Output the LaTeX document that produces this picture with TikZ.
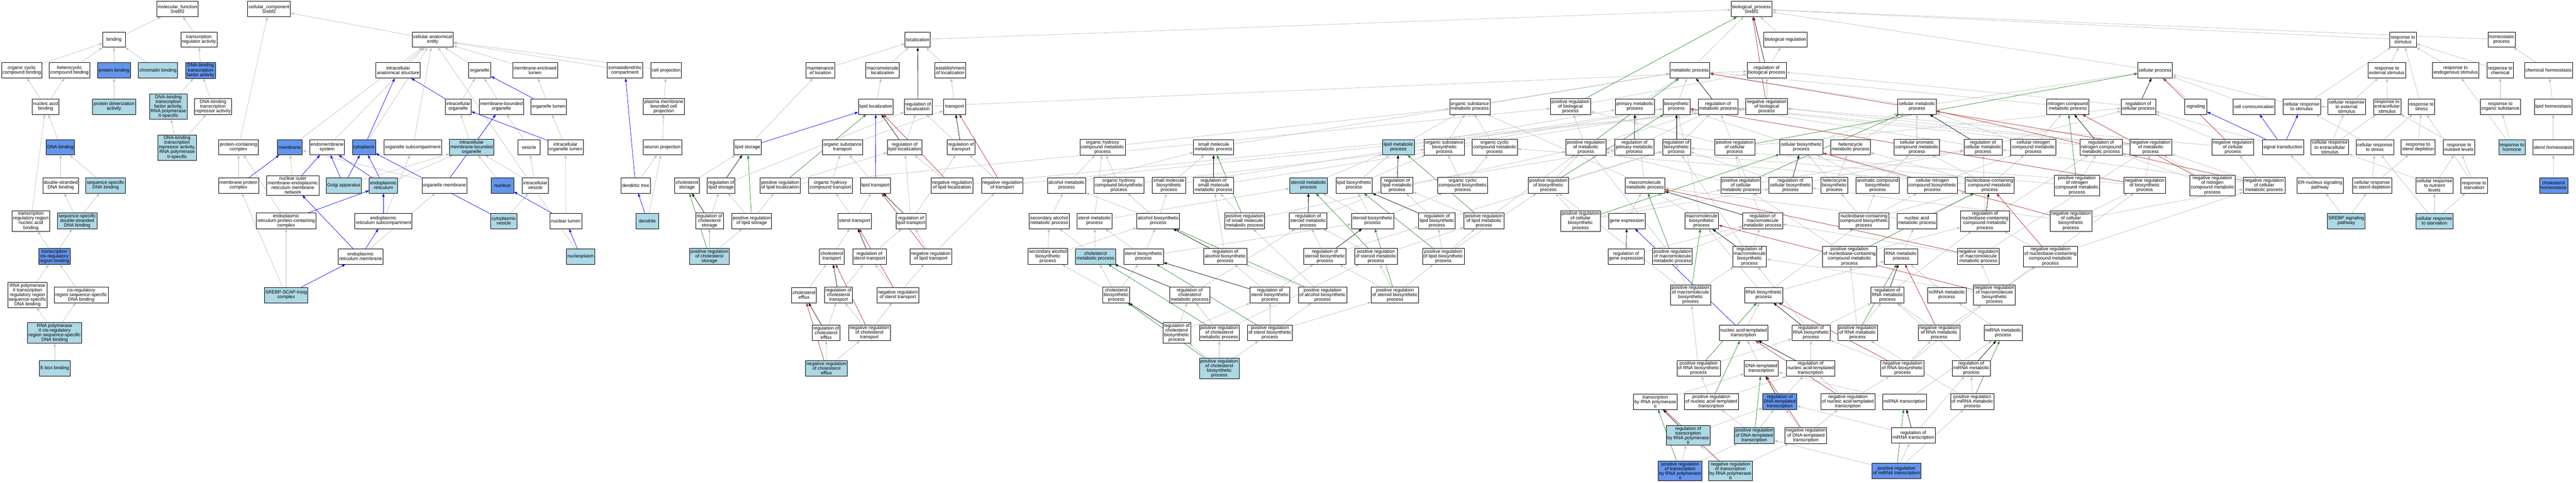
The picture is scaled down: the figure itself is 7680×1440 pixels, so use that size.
\documentclass[tikz,border=0pt]{standalone}
\usepackage{fontspec}
\setmainfont{Liberation Sans}
\usepackage{tikz}
\usetikzlibrary{arrows.meta,backgrounds}

\definecolor{hitdark}{RGB}{100,149,237}
\definecolor{hitlight}{RGB}{173,216,230}
\definecolor{edgegray}{RGB}{190,190,190}
\definecolor{negred}{RGB}{178,34,34}
\definecolor{posgreen}{RGB}{34,139,34}

\begin{document}
\begin{tikzpicture}[x=1pt,y=-1pt,
  go/.style={draw=black, line width=1pt, fill=white, align=center,
    font=\fontsize{14}{14}\selectfont, inner xsep=3pt, inner ysep=3pt,
    minimum width=67pt, minimum height=46pt},
  golight/.style={go, fill=hitlight},
  godark/.style={go, fill=hitdark},
  edge/.style={line width=1pt, -{Triangle[length=10pt,width=7pt]}},
  isa/.style={edge, draw=edgegray, fill=edgegray},
  partof/.style={edge, draw=blue, fill=blue},
  regs/.style={edge, draw=black, fill=black},
  posreg/.style={edge, draw=posgreen, fill=posgreen},
  negreg/.style={edge, draw=negred, fill=negred}]

\useasboundingbox (0,0) rectangle (7680,1440);

% molecular function
\node[go] (mf) at (529,27) {molecular\_function\\Srebf2};
\node[go] (bind) at (340,118) {binding};
\node[go] (trreg) at (593,118) {transcription\\regulator activity};
\node[go] (occb) at (65,210) {organic cyclic\\compound binding};
\node[go] (hcb) at (207,210) {heterocyclic\\compound binding};
\node[godark] (protb) at (340,210) {protein binding};
\node[golight] (chromb) at (471,210) {chromatin binding};
\node[godark] (dbtf) at (598,210) {DNA-binding\\transcription\\factor activity};
\node[go] (nab) at (136,318) {nucleic acid\\binding};
\node[golight] (pdim) at (340,318) {protein dimerization\\activity};
\node[golight] (dbtf2) at (502,318) {DNA-binding\\transcription\\factor activity,\\RNA polymerase\\II-specific};
\node[go] (dbtr) at (635,318) {DNA-binding\\transcription\\repressor activity};
\node[godark] (dnab) at (180,439) {DNA binding};
\node[golight] (dbtr2) at (528,440) {DNA-binding\\transcription\\repressor activity,\\RNA polymerase\\II-specific};
\node[go] (dsdna) at (181,553) {double-stranded\\DNA binding};
\node[golight] (ssdna) at (315,553) {sequence-specific\\DNA binding};
\node[go] (trrnab) at (92,659) {transcription\\regulatory region\\nucleic acid\\binding};
\node[golight] (ssdsdna) at (230,659) {sequence-specific\\double-stranded\\DNA binding};
\node[godark] (tcrb) at (162,765) {transcription\\cis-regulatory\\region binding};
\node[go] (rnap2trr) at (82,880) {RNA polymerase\\II transcription\\regulatory region\\sequence-specific\\DNA binding};
\node[go] (cisrr) at (242,880) {cis-regulatory\\region sequence-specific\\DNA binding};
\node[golight] (rnap2cis) at (163,993) {RNA polymerase\\II cis-regulatory\\region sequence-specific\\DNA binding};
\node[golight] (ebox) at (163,1099) {E-box binding};

% cellular component
\node[go] (cc) at (802,27) {cellular\_component\\Srebf2};
\node[go] (cae) at (1290,118) {cellular anatomical\\entity};
\node[go] (ias) at (1187,210) {intracellular\\anatomical structure};
\node[go] (organelle) at (1430,210) {organelle};
\node[go] (mel) at (1595,210) {membrane-enclosed\\lumen};
\node[go] (somato) at (1863,210) {somatodendritic\\compartment};
\node[go] (cellproj) at (1986,210) {cell projection};
\node[go] (intorg) at (1366,318) {intracellular\\organelle};
\node[go] (mbo) at (1495,318) {membrane-bounded\\organelle};
\node[go] (orglum) at (1636,318) {organelle lumen};
\node[go] (pmbcp) at (1979,318) {plasma membrane\\bounded cell\\projection};
\node[go] (pcc) at (711,439) {protein-containing\\complex};
\node[godark] (membrane) at (864,439) {membrane};
\node[go] (endomem) at (975,439) {endomembrane\\system};
\node[godark] (cytoplasm) at (1085,439) {cytoplasm};
\node[go] (orgsub) at (1231,439) {organelle subcompartment};
\node[golight] (imbo) at (1406,439) {intracellular\\membrane-bounded\\organelle};
\node[go] (vesicle) at (1577,439) {vesicle};
\node[go] (iol) at (1686,439) {intracellular\\organelle lumen};
\node[go] (neuproj) at (1975,439) {neuron projection};
\node[go] (mpc) at (711,553) {membrane protein\\complex};
\node[go] (nomer) at (873,553) {nuclear outer\\membrane-endoplasmic\\reticulum membrane\\network};
\node[golight] (golgi) at (1025,553) {Golgi apparatus};
\node[golight] (er) at (1143,553) {endoplasmic\\reticulum};
\node[go] (orgmem) at (1325,553) {organelle membrane};
\node[godark] (nucleus) at (1498,553) {nucleus};
\node[go] (intves) at (1596,553) {intracellular\\vesicle};
\node[go] (dentree) at (1895,553) {dendritic tree};
\node[go] (erpcc) at (853,659) {endoplasmic\\reticulum protein-containing\\complex};
\node[go] (ersub) at (1143,659) {endoplasmic\\reticulum subcompartment};
\node[golight] (cytves) at (1502,659) {cytoplasmic\\vesicle};
\node[go] (nuclum) at (1687,659) {nuclear lumen};
\node[golight] (dendrite) at (1930,659) {dendrite};
\node[go] (ermem) at (1075,765) {endoplasmic\\reticulum membrane};
\node[golight] (nucplasm) at (1731,765) {nucleoplasm};
\node[golight] (scap) at (853,880) {SREBP-SCAP-Insig\\complex};

% localization and transport
\node[go] (maintloc) at (2446,210) {maintenance\\of location};
\node[go] (loc) at (2736,118) {localization};
\node[go] (macroloc) at (2631,210) {macromolecule\\localization};
\node[go] (estloc) at (2833,210) {establishment\\of localization};
\node[go] (lipidloc) at (2611,318) {lipid localization};
\node[go] (regloc) at (2737,318) {regulation of\\localization};
\node[go] (transport) at (2846,318) {transport};
\node[go] (lipstor) at (2229,439) {lipid storage};
\node[go] (ostrans) at (2512,439) {organic substance\\transport};
\node[go] (reglipl) at (2697,439) {regulation of\\lipid localization};
\node[go] (regtrans) at (2865,439) {regulation of\\transport};
\node[go] (cholstor) at (2048,553) {cholesterol\\storage};
\node[go] (reglips) at (2150,553) {regulation of\\lipid storage};
\node[go] (posreglipl) at (2326,553) {positive regulation\\of lipid localization};
\node[go] (ohct) at (2476,553) {organic hydroxy\\compound transport};
\node[go] (liptrans) at (2610,553) {lipid transport};
\node[go] (neglipl) at (2838,553) {negative regulation\\of lipid localization};
\node[go] (negtrans) at (2988,553) {negative regulation\\of transport};
\node[go] (regcholstor) at (2115,659) {regulation of\\cholesterol\\storage};
\node[go] (poslips) at (2241,659) {positive regulation\\of lipid storage};
\node[go] (stertrans) at (2548,659) {sterol transport};
\node[go] (regliptrans) at (2716,659) {regulation of\\lipid transport};
\node[golight] (poscholstor) at (2115,765) {positive regulation\\of cholesterol\\storage};
\node[go] (choltrans) at (2480,765) {cholesterol\\transport};
\node[go] (regstertrans) at (2592,765) {regulation of\\sterol transport};
\node[go] (negliptrans) at (2775,765) {negative regulation\\of lipid transport};
\node[go] (cholefflux) at (2397,880) {cholesterol\\efflux};
\node[go] (regcholtrans) at (2500,880) {regulation of\\cholesterol\\transport};
\node[go] (negstertrans) at (2677,880) {negative regulation\\of sterol transport};
\node[go] (regcholeff) at (2463,993) {regulation of\\cholesterol\\efflux};
\node[go] (negcholtrans) at (2592,993) {negative regulation\\of cholesterol\\transport};
\node[golight] (negcholeff) at (2464,1099) {negative regulation\\of cholesterol\\efflux};

% small molecules, alcohols, sterols
\node[go] (ohcmp) at (3287,439) {organic hydroxy\\compound metabolic\\process};
\node[go] (smmp) at (3618,439) {small molecule\\metabolic process};
\node[go] (alcmp) at (3180,553) {alcohol metabolic\\process};
\node[go] (ohcbp) at (3336,553) {organic hydroxy\\compound biosynthetic\\process};
\node[go] (smbp) at (3485,553) {small molecule\\biosynthetic\\process};
\node[go] (regsmmp) at (3618,553) {regulation of\\small molecule\\metabolic process};
\node[go] (secalcmp) at (3128,659) {secondary alcohol\\metabolic process};
\node[go] (sterolmp) at (3263,659) {sterol metabolic\\process};
\node[go] (alcbp) at (3453,659) {alcohol biosynthetic\\process};
\node[go] (possmmp) at (3711,659) {positive regulation\\of small molecule\\metabolic process};
\node[go] (secalcbp) at (3124,765) {secondary alcohol\\biosynthetic\\process};
\node[golight] (cholmp) at (3266,765) {cholesterol\\metabolic process};
\node[go] (sterolbp) at (3409,765) {sterol biosynthetic\\process};
\node[go] (regalcbp) at (3653,765) {regulation of\\alcohol biosynthetic\\process};
\node[go] (cholbp) at (3328,880) {cholesterol\\biosynthetic\\process};
\node[go] (regcholmp) at (3547,880) {regulation of\\cholesterol\\metabolic process};
\node[go] (regsterolbp) at (3786,880) {regulation of\\sterol biosynthetic\\process};
\node[go] (regcholbp) at (3508,993) {regulation of\\cholesterol\\biosynthetic\\process};
\node[go] (poscholmp) at (3635,993) {positive regulation\\of cholesterol\\metabolic process};
\node[go] (possterolbp) at (3786,993) {positive regulation\\of sterol biosynthetic\\process};
\node[golight] (poscholbp) at (3635,1099) {positive regulation\\of cholesterol\\biosynthetic\\process};

% lipids and steroids
\node[golight] (lipmp) at (4169,439) {lipid metabolic\\process};
\node[go] (osbp) at (4306,439) {organic substance\\biosynthetic\\process};
\node[go] (occmp) at (4456,439) {organic cyclic\\compound metabolic\\process};
\node[golight] (stermp) at (3901,553) {steroid metabolic\\process};
\node[go] (lipbp) at (4037,553) {lipid biosynthetic\\process};
\node[go] (reglipmp) at (4165,553) {regulation of\\lipid metabolic\\process};
\node[go] (occbp) at (4361,553) {organic cyclic\\compound biosynthetic\\process};
\node[go] (regstermp) at (3900,659) {regulation of\\steroid metabolic\\process};
\node[go] (sterbp) at (4092,659) {steroid biosynthetic\\process};
\node[go] (reglipbp) at (4284,659) {regulation of\\lipid biosynthetic\\process};
\node[go] (poslipmp) at (4424,659) {positive regulation\\of lipid metabolic\\process};
\node[go] (regsterbp) at (3950,765) {regulation of\\steroid biosynthetic\\process};
\node[go] (posstermp) at (4102,765) {positive regulation\\of steroid metabolic\\process};
\node[go] (poslipbp) at (4303,765) {positive regulation\\of lipid biosynthetic\\process};
\node[go] (posalcbp) at (3943,880) {positive regulation\\of alcohol biosynthetic\\process};
\node[go] (possterbp) at (4159,880) {positive regulation\\of steroid biosynthetic\\process};

% metabolism core
\node[go] (metab) at (5038,210) {metabolic process};
\node[go] (osmp) at (4382,318) {organic substance\\metabolic process};
\node[go] (posbp) at (4682,318) {positive regulation\\of biological\\process};
\node[go] (primmp) at (4874,318) {primary metabolic\\process};
\node[go] (biosyn) at (4998,318) {biosynthetic\\process};
\node[go] (regmp) at (5122,318) {regulation of\\metabolic process};
\node[go] (posmp) at (4728,439) {positive regulation\\of metabolic\\process};
\node[go] (regpmp) at (4873,439) {regulation of\\primary metabolic\\process};
\node[go] (regbiosyn) at (4998,439) {regulation of\\biosynthetic\\process};
\node[go] (poscp) at (5172,439) {positive regulation\\of cellular\\process};
\node[go] (posbiosyn) at (4616,553) {positive regulation\\of biosynthetic\\process};
\node[go] (mmmp) at (4904,553) {macromolecule\\metabolic process};
\node[go] (poscmp) at (5190,553) {positive regulation\\of cellular\\metabolic process};
\node[go] (poscbp) at (4712,659) {positive regulation\\of cellular\\biosynthetic\\process};
\node[go] (geneexp) at (4850,659) {gene expression};
\node[go] (mmbp) at (5073,659) {macromolecule\\biosynthetic\\process};
\node[go] (reggeneexp) at (4848,765) {regulation of\\gene expression};
\node[go] (posmmmp) at (4986,765) {positive regulation\\of macromolecule\\metabolic process};
\node[go] (posmmbp) at (5040,880) {positive regulation\\of macromolecule\\biosynthetic\\process};
\node[go] (posrnabp) at (5064,1099) {positive regulation\\of RNA biosynthetic\\process};
\node[go] (trnap2) at (4935,1198) {transcription\\by RNA polymerase\\II};
\node[go] (posnatt) at (5102,1198) {positive regulation\\of nucleic acid-templated\\transcription};
\node[golight] (regtrnap2) at (5033,1299) {regulation of\\transcription\\by RNA polymerase\\II};
\node[godark] (postrnap2) at (5009,1405) {positive regulation\\of transcription\\by RNA polymerase\\II};
\node[golight] (negtrnap2) at (5159,1405) {negative regulation\\of transcription\\by RNA polymerase\\II};

% biological process, cellular metabolism
\node[go] (bp) at (5222,27) {biological\_process\\Srebf2};
\node[go] (bioreg) at (5323,118) {biological regulation};
\node[go] (regbp) at (5267,210) {regulation of\\biological process};
\node[go] (cellproc) at (6425,210) {cellular process};
\node[go] (negbp) at (5267,318) {negative regulation\\of biological\\process};
\node[go] (cellmp) at (5715,318) {cellular metabolic\\process};
\node[go] (ncmp) at (6165,318) {nitrogen compound\\metabolic process};
\node[go] (regcp) at (6375,318) {regulation of\\cellular process};
\node[go] (cellbp) at (5370,439) {cellular biosynthetic\\process};
\node[go] (hetmp) at (5517,439) {heterocycle\\metabolic process};
\node[go] (camp) at (5715,439) {cellular aromatic\\compound metabolic\\process};
\node[go] (regcmp) at (5912,439) {regulation of\\cellular metabolic\\process};
\node[go] (cncmp) at (6062,439) {cellular nitrogen\\compound metabolic\\process};
\node[go] (regncmp) at (6264,439) {regulation of\\nitrogen compound\\metabolic process};
\node[go] (negmp) at (6412,439) {negative regulation\\of metabolic\\process};
\node[go] (regcbp) at (5338,553) {regulation of\\cellular biosynthetic\\process};
\node[go] (hetbp) at (5469,553) {heterocycle\\biosynthetic\\process};
\node[go] (acbp) at (5598,553) {aromatic compound\\biosynthetic\\process};
\node[go] (cncbp) at (5761,553) {cellular nitrogen\\compound biosynthetic\\process};
\node[go] (nbcmp) at (5932,553) {nucleobase-containing\\compound metabolic\\process};
\node[go] (posncmp) at (6192,553) {positive regulation\\of nitrogen\\compound metabolic\\process};
\node[go] (negbiosyn) at (6394,553) {negative regulation\\of biosynthetic\\process};
\node[go] (regmmmp) at (5255,659) {regulation of\\macromolecule\\metabolic process};
\node[go] (nbcbp) at (5557,659) {nucleobase-containing\\compound biosynthetic\\process};
\node[go] (namp) at (5715,659) {nucleic acid\\metabolic process};
\node[go] (regnbcmp) at (5918,659) {regulation of\\nucleobase-containing\\compound metabolic\\process};
\node[go] (negcbp) at (6174,659) {negative regulation\\of cellular\\biosynthetic\\process};

% RNA and transcription
\node[go] (regmmbp) at (5216,765) {regulation of\\macromolecule\\biosynthetic\\process};
\node[go] (posnbcmp) at (5514,765) {positive regulation\\of nucleobase-containing\\compound metabolic\\process};
\node[go] (rnamp) at (5668,765) {RNA metabolic\\process};
\node[go] (negmmmp) at (5898,765) {negative regulation\\of macromolecule\\metabolic process};
\node[go] (negnbcmp) at (6113,765) {negative regulation\\of nucleobase-containing\\compound metabolic\\process};
\node[go] (rnabp) at (5258,880) {RNA biosynthetic\\process};
\node[go] (regrnamp) at (5627,880) {regulation of\\RNA metabolic\\process};
\node[go] (ncrnamp) at (5804,880) {ncRNA metabolic\\process};
\node[go] (negmmbp) at (5946,880) {negative regulation\\of macromolecule\\biosynthetic\\process};
\node[go] (natt) at (5198,993) {nucleic acid-templated\\transcription};
\node[go] (regrnabp) at (5399,993) {regulation of\\RNA biosynthetic\\process};
\node[go] (posrnamp) at (5538,993) {positive regulation\\of RNA metabolic\\process};
\node[go] (negrnamp) at (5781,993) {negative regulation\\of RNA metabolic\\process};
\node[go] (mirnamp) at (5972,993) {miRNA metabolic\\process};
\node[go] (dtt) at (5251,1099) {DNA-templated\\transcription};
\node[go] (regnatt) at (5398,1099) {regulation of\\nucleic acid-templated\\transcription};
\node[go] (negrnabp) at (5672,1099) {negative regulation\\of RNA biosynthetic\\process};
\node[go] (regmirnamp) at (5877,1099) {regulation of\\miRNA metabolic\\process};
\node[godark] (regdtt) at (5306,1198) {regulation of\\DNA-templated\\transcription};
\node[go] (negnatt) at (5509,1198) {negative regulation\\of nucleic acid-templated\\transcription};
\node[go] (mirnat) at (5678,1198) {miRNA transcription};
\node[go] (posmirnamp) at (5880,1198) {positive regulation\\of miRNA metabolic\\process};
\node[golight] (posdtt) at (5230,1299) {positive regulation\\of DNA-templated\\transcription};
\node[go] (negdtt) at (5384,1299) {negative regulation\\of DNA-templated\\transcription};
\node[go] (regmirnat) at (5704,1299) {regulation of\\miRNA transcription};
\node[godark] (posmirnat) at (5654,1405) {positive regulation\\of miRNA transcription};

% stimulus and homeostasis
\node[go] (respstim) at (7164,118) {response to\\stimulus};
\node[go] (homeo) at (7458,118) {homeostatic\\process};
\node[go] (respext) at (7116,210) {response to\\external stimulus};
\node[go] (respendo) at (7321,210) {response to\\endogenous stimulus};
\node[go] (respchem) at (7454,210) {response to\\chemical};
\node[go] (chemhom) at (7598,210) {chemical homeostasis};
\node[go] (signaling) at (6546,318) {signaling};
\node[go] (cellcomm) at (6720,318) {cell communication};
\node[go] (crstim) at (6862,318) {cellular response\\to stimulus};
\node[go] (crext) at (6996,318) {cellular response\\to external\\stimulus};
\node[go] (rextra) at (7117,318) {response to\\extracellular\\stimulus};
\node[go] (rstress) at (7219,318) {response to\\stress};
\node[go] (rorg) at (7454,318) {response to\\organic substance};
\node[go] (liphom) at (7612,318) {lipid homeostasis};
\node[go] (negcp) at (6657,439) {negative regulation\\of cellular\\process};
\node[go] (sigtrans) at (6806,439) {signal transduction};
\node[go] (crextra) at (6946,439) {cellular response\\to extracellular\\stimulus};
\node[go] (crstress) at (7080,439) {cellular response\\to stress};
\node[go] (rsterol) at (7209,439) {response to\\sterol depletion};
\node[go] (rnutr) at (7331,439) {response to\\nutrient levels};
\node[golight] (rhorm) at (7489,439) {response to\\hormone};
\node[go] (sterhom) at (7612,439) {sterol homeostasis};
\node[go] (negncmp) at (6596,553) {negative regulation\\of nitrogen\\compound metabolic\\process};
\node[go] (negcmp) at (6750,553) {negative regulation\\of cellular\\metabolic process};
\node[go] (ernuc) at (6917,553) {ER-nucleus signaling\\pathway};
\node[go] (crsterol) at (7072,553) {cellular response\\to sterol depletion};
\node[go] (crnutr) at (7258,553) {cellular response\\to nutrient\\levels};
\node[go] (rstarv) at (7376,553) {response to\\starvation};
\node[godark] (cholhom) at (7613,553) {cholesterol\\homeostasis};
\node[golight] (srebp) at (6995,659) {SREBP signaling\\pathway};
\node[golight] (crstarv) at (7258,659) {cellular response\\to starvation};

\begin{scope}[on background layer]
% is_a
\foreach \From/\To in {bind/mf, trreg/mf, occb/bind, hcb/bind, protb/bind, chromb/bind, dbtf/trreg,
  nab/occb, nab/hcb, pdim/protb, dbtf2/dbtf, dbtr/dbtf, dbtr2/dbtf2, dbtr2/dbtr, dnab/nab, trrnab/nab,
  dsdna/dnab, ssdna/dnab, ssdsdna/dsdna, ssdsdna/ssdna, tcrb/trrnab, tcrb/ssdsdna, rnap2trr/tcrb,
  cisrr/tcrb, rnap2cis/rnap2trr, rnap2cis/cisrr, ebox/rnap2cis}
  \draw[isa] (\From) -- (\To);
\foreach \From/\To in {cae/cc, pcc/cc, membrane/cae, endomem/cae, cytoplasm/cae, ias/cae, orgsub/cae,
  organelle/cae, mel/cae, somato/cae, cellproj/cae, nucplasm/cae, mpc/pcc, nomer/membrane, erpcc/pcc,
  scap/erpcc, scap/mpc, golgi/imbo, er/imbo, orgmem/membrane, ersub/orgsub, ermem/orgmem,
  intorg/organelle, mbo/organelle, orglum/mel, pmbcp/cellproj, imbo/intorg, imbo/mbo, vesicle/mbo,
  iol/orglum, neuproj/pmbcp, nucleus/imbo, intves/vesicle, intves/imbo, cytves/intves, nuclum/iol,
  dentree/neuproj, dendrite/neuproj}
  \draw[isa] (\From) -- (\To);
\foreach \From/\To in {loc/bp, maintloc/loc, macroloc/loc, estloc/loc, transport/estloc,
  lipidloc/macroloc, regloc/regbp, reglipl/regloc, regtrans/regloc, lipstor/maintloc, cholstor/lipstor,
  reglips/regloc, regcholstor/reglips, posreglipl/reglipl, posreglipl/posbp, poslips/reglips,
  poslips/posreglipl, poscholstor/regcholstor, poscholstor/poslips, ostrans/transport, ohct/ostrans,
  liptrans/ostrans, stertrans/ohct, stertrans/liptrans, choltrans/stertrans, cholefflux/choltrans,
  neglipl/reglipl, neglipl/negbp, negtrans/regtrans, negtrans/negbp, regliptrans/regtrans,
  regliptrans/reglipl, negliptrans/regliptrans, negliptrans/negtrans, regstertrans/regliptrans,
  negstertrans/regstertrans, negstertrans/negliptrans, regcholtrans/regstertrans,
  regcholeff/regcholtrans, negcholtrans/regcholtrans, negcholtrans/negstertrans,
  negcholeff/regcholeff, negcholeff/negcholtrans}
  \draw[isa] (\From) -- (\To);
\foreach \From/\To in {ohcmp/osmp, smmp/metab, alcmp/ohcmp, alcmp/smmp, ohcbp/ohcmp, ohcbp/osbp,
  smbp/smmp, smbp/biosyn, regsmmp/regmp, secalcmp/alcmp, sterolmp/ohcmp, sterolmp/stermp,
  alcbp/alcmp, alcbp/ohcbp, alcbp/smbp, possmmp/regsmmp, possmmp/posmp, secalcbp/secalcmp,
  secalcbp/alcbp, cholmp/sterolmp, cholmp/secalcmp, sterolbp/sterolmp, sterolbp/alcbp,
  sterolbp/sterbp, regalcbp/regsmmp, cholbp/cholmp, cholbp/sterolbp, cholbp/secalcbp,
  regcholmp/regstermp, regsterolbp/regalcbp, regsterolbp/regsterbp, regcholbp/regcholmp,
  regcholbp/regsterolbp, poscholmp/regcholmp, poscholmp/posstermp, possterolbp/regsterolbp,
  possterolbp/possterbp, possterolbp/posalcbp, poscholbp/regcholbp, poscholbp/poscholmp,
  poscholbp/possterolbp}
  \draw[isa] (\From) -- (\To);
\foreach \From/\To in {lipmp/osmp, lipmp/primmp, osbp/osmp, osbp/biosyn, occmp/osmp, stermp/lipmp,
  lipbp/lipmp, lipbp/osbp, reglipmp/regpmp, occbp/occmp, occbp/osbp, regstermp/reglipmp,
  sterbp/stermp, sterbp/lipbp, sterbp/occbp, reglipbp/reglipmp, reglipbp/regbiosyn,
  poslipmp/reglipmp, poslipmp/posmp, regsterbp/regstermp, regsterbp/reglipbp, posstermp/regstermp,
  posstermp/poslipmp, poslipbp/reglipbp, poslipbp/poslipmp, poslipbp/posbiosyn, posalcbp/regalcbp,
  posalcbp/possmmp, possterbp/regsterbp, possterbp/posstermp, possterbp/poslipbp}
  \draw[isa] (\From) -- (\To);
\foreach \From/\To in {metab/bp, bioreg/bp, cellproc/bp, respstim/bp, homeo/bp, regbp/bioreg,
  negbp/regbp, posbp/regbp, osmp/metab, primmp/metab, biosyn/metab, posmp/regmp, posmp/posbp,
  regpmp/regmp, regbiosyn/regmp, poscp/regcp, poscp/posbp, posbiosyn/regbiosyn, posbiosyn/posmp,
  mmmp/osmp, mmmp/primmp, poscbp/posbiosyn, poscbp/regcbp, poscbp/poscmp, mmbp/mmmp, mmbp/biosyn,
  geneexp/mmmp, reggeneexp/regmmmp, regmmmp/regmp, regmmbp/regmmmp, regmmbp/regbiosyn,
  posmmmp/regmmmp, posmmmp/posmp, posmmbp/posmmmp, posmmbp/regmmbp, posmmbp/posbiosyn,
  posrnabp/posmmbp, posrnabp/regrnabp, trnap2/dtt, posnatt/posrnabp, posnatt/regnatt,
  regtrnap2/regdtt, postrnap2/regtrnap2, postrnap2/posdtt, negtrnap2/regtrnap2, negtrnap2/negdtt}
  \draw[isa] (\From) -- (\To);
\foreach \From/\To in {cellmp/metab, cellmp/cellproc, ncmp/metab, regcp/regbp, cellbp/cellmp,
  cellbp/biosyn, hetmp/cellmp, camp/cellmp, regcmp/regmp, regcmp/regcp, cncmp/ncmp, cncmp/cellmp,
  regncmp/regmp, negmp/regmp, negmp/negbp, poscmp/regcmp, poscmp/posmp, poscmp/poscp,
  regcbp/regbiosyn, regcbp/regcmp, hetbp/hetmp, hetbp/cellbp, acbp/camp, acbp/cellbp, cncbp/cncmp,
  cncbp/cellbp, nbcmp/camp, nbcmp/hetmp, nbcmp/cncmp, nbcmp/occmp, posncmp/regncmp, posncmp/posmp,
  negbiosyn/regbiosyn, negbiosyn/negmp, nbcbp/nbcmp, nbcbp/hetbp, nbcbp/acbp, nbcbp/cncbp,
  namp/nbcmp, namp/mmmp, regnbcmp/regcmp, regnbcmp/regncmp, negcbp/regcbp, negcbp/negbiosyn,
  negcbp/negcmp}
  \draw[isa] (\From) -- (\To);
\foreach \From/\To in {posnbcmp/regnbcmp, posnbcmp/poscmp, rnamp/namp, negmmmp/regmmmp,
  negmmmp/negmp, negnbcmp/regnbcmp, negnbcmp/negcmp, rnabp/rnamp, rnabp/nbcbp, rnabp/mmbp,
  regrnamp/regnbcmp, ncrnamp/rnamp, negmmbp/negmmmp, negmmbp/negbiosyn, negmmbp/regmmbp,
  natt/rnabp, regrnabp/regrnamp, regrnabp/regmmbp, posrnamp/regrnamp, posrnamp/posnbcmp,
  negrnamp/regrnamp, negrnamp/negnbcmp, mirnamp/ncrnamp, dtt/natt, regnatt/regrnabp,
  negrnabp/regrnabp, negrnabp/negrnamp, negrnabp/negmmbp, regmirnamp/regrnamp, regdtt/regnatt,
  negnatt/regnatt, negnatt/negrnabp, mirnat/mirnamp, mirnat/dtt, posmirnamp/regmirnamp,
  posmirnamp/posrnamp, posdtt/regdtt, posdtt/posnatt, negdtt/regdtt, negdtt/negnatt,
  regmirnat/regdtt, regmirnat/regmirnamp, posmirnat/regmirnat, posmirnat/posdtt,
  posmirnat/posmirnamp}
  \draw[isa] (\From) -- (\To);
\foreach \From/\To in {respext/respstim, respendo/respstim, respchem/respstim, rstress/respstim,
  chemhom/homeo, crstim/respstim, crstim/cellproc, signaling/cellproc, cellcomm/cellproc,
  crext/respext, crext/crstim, rextra/respext, rorg/respchem, liphom/chemhom, negcp/regcp,
  negcp/negbp, sigtrans/regcp, crextra/crext, crextra/rextra, crstress/rstress, crstress/crstim,
  rsterol/rstress, rnutr/rextra, rhorm/respendo, rhorm/rorg, sterhom/liphom, negncmp/regncmp,
  negncmp/negmp, negcmp/regcmp, negcmp/negcp, negcmp/negmp, ernuc/sigtrans, crsterol/rsterol,
  crsterol/crstress, crnutr/rnutr, crnutr/crextra, rstarv/rnutr, rstarv/rstress, cholhom/sterhom,
  srebp/ernuc, srebp/crsterol, crstarv/crnutr, crstarv/rstarv, crstarv/crstress}
  \draw[isa] (\From) -- (\To);

% part_of
\foreach \From/\To in {cytoplasm/ias, intorg/ias, mpc/membrane, nomer/endomem, golgi/endomem,
  golgi/cytoplasm, er/endomem, er/cytoplasm, cytves/cytoplasm, orgmem/mbo, erpcc/er, ermem/nomer,
  ersub/er, ermem/ersub, scap/ermem, orglum/organelle, iol/intorg, nuclum/nucleus, nucplasm/nuclum,
  dentree/somato, dendrite/dentree, lipstor/lipidloc, liptrans/lipidloc, sigtrans/signaling,
  sigtrans/cellcomm, sigtrans/crstim, natt/geneexp}
  \draw[partof] (\From) -- (\To);

% regulates
\foreach \From/\To in {regbp/bp, regloc/loc, reglipl/lipidloc, regtrans/transport, reglips/lipstor,
  regcholstor/cholstor, regliptrans/liptrans, regstertrans/stertrans, regcholtrans/choltrans,
  regcholeff/cholefflux, regsmmp/smmp, regalcbp/alcbp, regcholmp/cholmp, regsterolbp/sterolbp,
  regcholbp/cholbp, regmp/metab, regpmp/primmp, regbiosyn/biosyn, regcp/cellproc, regcmp/cellmp,
  regncmp/ncmp, regcbp/cellbp, regnbcmp/nbcmp, reglipmp/lipmp, regstermp/stermp, reglipbp/lipbp,
  regsterbp/sterbp, reggeneexp/geneexp, regmmmp/mmmp, regmmbp/mmbp, regrnamp/rnamp,
  regrnabp/rnabp, regnatt/natt, regdtt/dtt, regmirnamp/mirnamp, regmirnat/mirnat,
  regtrnap2/trnap2}
  \draw[regs] (\From) -- (\To);

% positively regulates
\foreach \From/\To in {posbp/bp, posreglipl/lipidloc, poslips/lipstor, poscholstor/cholstor,
  possmmp/smmp, posalcbp/alcbp, poscholmp/cholmp, possterolbp/sterolbp, poscholbp/cholbp,
  posmp/metab, posbiosyn/biosyn, poscp/cellproc, poscmp/cellmp, posncmp/ncmp, poscbp/cellbp,
  poslipmp/lipmp, posstermp/stermp, poslipbp/lipbp, possterbp/sterbp, posmmmp/mmmp, posmmbp/mmbp,
  posnbcmp/nbcmp, posrnamp/rnamp, posrnabp/rnabp, posnatt/natt, posdtt/dtt, posmirnamp/mirnamp,
  posmirnat/mirnat, postrnap2/trnap2}
  \draw[posreg] (\From) -- (\To);

% negatively regulates
\foreach \From/\To in {negbp/bp, neglipl/lipidloc, negtrans/transport, negliptrans/liptrans,
  negstertrans/stertrans, negcholtrans/choltrans, negcholeff/cholefflux, negmp/metab,
  negcp/cellproc, negcmp/cellmp, negncmp/ncmp, negbiosyn/biosyn, negcbp/cellbp, negmmmp/mmmp,
  negmmbp/mmbp, negnbcmp/nbcmp, negrnamp/rnamp, negrnabp/rnabp, negnatt/natt, negdtt/dtt,
  negtrnap2/trnap2}
  \draw[negreg] (\From) -- (\To);
\end{scope}

\end{tikzpicture}
\end{document}
